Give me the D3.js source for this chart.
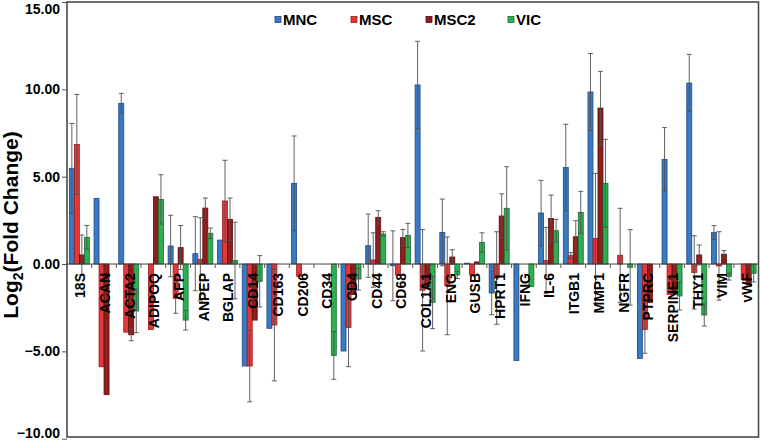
<!DOCTYPE html>
<html>
<head>
<meta charset="utf-8">
<script src="https://cdn.jsdelivr.net/npm/d3@7/dist/d3.min.js"></script>
<style>
  body { margin: 0; background: #fff; }
  svg { display: block; font-family: "Liberation Sans", Arial, sans-serif; }
</style>
</head>
<body>
<svg id="chart" width="761" height="441"></svg>
<script>
const categories = ["18S","ACAN","ACTA2","ADIPOQ","AFP","ANPEP","BGLAP","CD14","CD163","CD206","CD34","CD4","CD44","CD68","COL1A1","ENG","GUSB","HPRT1","IFNG","IL-6","ITGB1","MMP1","NGFR","PTPRC","SERPINE1","THY1","VIM","vWF"];
const seriesNames = ["MNC","MSC","MSC2","VIC"];
const MNC     = [5.48, 3.76, 9.2, 0, 1.03, 0.59, 1.37, -5.84, -3.68, 4.62, 0, -4.98, 1.05, -0.1, 10.25, 1.81, 0.05, -1.66, -5.52, 2.92, 5.52, 9.85, 0, -5.4, 5.99, 10.36, 1.8, 0];
const MNC_err = [2.57, 0, 0.57, 0, 1.76, 2.12, 0, 0, 0, 2.71, 0, 0, 1.81, 2.0, 2.5, 1.91, 0, 1.24, 0, 1.87, 2.48, 2.2, 0, 0, 1.82, 1.64, 0.4, 0];
const MSC     = [6.85, -5.88, -3.9, -3.75, -1.97, 0.27, 3.61, -5.84, -3.49, -0.7, 0, -3.63, 0.23, -0.63, -1.5, -1.25, -0.63, -0.8, 0, 0.2, 0.48, 1.47, 0.5, -3.74, -1.75, -0.48, -0.11, -0.9];
const MSC_err = [2.86, 0, 0, 0, 0.85, 2.38, 2.33, 2.05, 3.2, 0, 0, 2.25, 1.56, 0, 3.48, 2.8, 0, 2.65, 0, 1.9, 0.17, 3.72, 2.69, 1.37, 0, 2.1, 1.96, 0];
const MSC2     = [0.52, -7.48, -4.05, 3.85, 0.94, 3.2, 2.56, -3.21, 0, 0, 0, -1.75, 2.67, 1.51, -1.3, 0.4, 0.12, 2.75, 0, 2.61, 1.56, 8.93, 0, -2.21, -1.7, 0.52, 0.56, -1.2];
const MSC2_err = [1.14, 0, 0.34, 0, 1.26, 0.58, 1.22, 0, 0, 0, 0, 0, 0.38, 0.47, 0, 0.42, 0, 1.27, 0, 1.34, 0.92, 2.1, 0, 0, 0, 0.57, 0.21, 0];
const VIC     = [1.53, 0, -2.69, 3.7, -3.21, 1.76, 0.2, -0.99, 0, 0, -5.23, -0.86, 1.72, 1.64, -2.2, -0.63, 1.24, 3.19, -1.28, 1.91, 2.96, 4.62, -0.19, 0, -1.83, -2.92, -0.72, -0.53];
const VIC_err = [0.68, 0, 1.24, 1.41, 0.57, 0.3, 2.19, 1.47, 0, 0, 1.37, 0.63, 0.13, 0.69, 1.5, 0.2, 0.55, 2.38, 0, 0.65, 1.2, 2.52, 2.16, 0, 0.8, 0.63, 0.2, 0.5];
const yTicks = [-10, -5, 0, 5, 10, 15];

const values = {MNC: MNC, MSC: MSC, MSC2: MSC2, VIC: VIC};
const errors = {MNC: MNC_err, MSC: MSC_err, MSC2: MSC2_err, VIC: VIC_err};
const fills   = {MNC: "#3a79c4", MSC: "#e3383a", MSC2: "#8e1d1d", VIC: "#2fae52"};
const strokes = {MNC: "#1e4a80", MSC: "#9a1c1c", MSC2: "#5a0f0f", VIC: "#1a6e32"};

const svg = d3.select("#chart");
const plotL = 67, plotR = 758.5, plotT = 2, plotB = 437;

const y = d3.scaleLinear().domain([-10, 15]).range([438.7, 2]);
const x0 = d3.scaleBand().domain(categories).range([plotL, plotR]).padding(0);
const bw = x0.bandwidth();
const innerPad = (bw - 20) / 2;
const x1 = d3.scaleBand().domain(seriesNames).range([innerPad, bw - innerPad]).padding(0);

const rows = [];
categories.forEach((c, i) => {
  seriesNames.forEach(s => {
    rows.push({cat: c, s: s, v: values[s][i], e: errors[s][i]});
  });
});

const g = svg.append("g");
g.selectAll("rect.bar").data(rows.filter(d => d.v !== 0)).join("rect")
  .attr("class", "bar")
  .attr("x", d => x0(d.cat) + x1(d.s))
  .attr("width", x1.bandwidth())
  .attr("y", d => y(Math.max(0, d.v)))
  .attr("height", d => Math.abs(y(d.v) - y(0)))
  .attr("fill", d => fills[d.s])
  .attr("stroke", d => strokes[d.s])
  .attr("stroke-width", 0.8);

const cx = d => x0(d.cat) + x1(d.s) + x1.bandwidth() / 2;
const eb = g.selectAll("g.err").data(rows.filter(d => d.e > 0)).join("g").attr("class", "err")
  .attr("stroke", "#505050").attr("stroke-width", 0.9);
eb.append("line")
  .attr("x1", cx).attr("x2", cx)
  .attr("y1", d => y(d.v - d.e))
  .attr("y2", d => y(d.v + d.e));
eb.append("line")
  .attr("x1", d => cx(d) - 2.5).attr("x2", d => cx(d) + 2.5)
  .attr("y1", d => y(d.v + d.e)).attr("y2", d => y(d.v + d.e));
eb.append("line")
  .attr("x1", d => cx(d) - 2.5).attr("x2", d => cx(d) + 2.5)
  .attr("y1", d => y(d.v - d.e)).attr("y2", d => y(d.v - d.e));

const xAxis = svg.append("g").attr("transform", `translate(0,${y(0)})`);
xAxis.append("line").attr("x1", plotL).attr("x2", plotR).attr("y1", 0).attr("y2", 0)
  .attr("stroke", "#444").attr("stroke-width", 1);
xAxis.selectAll("line.tk").data(categories.slice(1)).join("line").attr("class", "tk")
  .attr("x1", d => x0(d)).attr("x2", d => x0(d)).attr("y1", 0).attr("y2", 4)
  .attr("stroke", "#555").attr("stroke-width", 1);

svg.append("g").selectAll("text").data(categories).join("text")
  .attr("transform", d => `translate(${x0(d) + bw / 2 + 1},273) rotate(-90)`)
  .attr("text-anchor", "end")
  .attr("dy", "0.35em")
  .attr("font-size", 14)
  .attr("font-weight", "bold")
  .attr("fill", "#000")
  .text(d => d);

svg.append("rect").attr("x", plotL).attr("y", plotT).attr("width", plotR - plotL).attr("height", plotB - plotT)
  .attr("fill", "none").attr("stroke", "#4a4a4a").attr("stroke-width", 1.6);

const yAxis = svg.append("g").attr("transform", `translate(${plotL},0)`)
  .call(d3.axisLeft(y).tickValues(yTicks).tickSize(5).tickPadding(2).tickFormat(d3.format(".2f")));
yAxis.select(".domain").remove();
yAxis.selectAll(".tick line").attr("stroke", "#555");
yAxis.selectAll(".tick text").attr("font-size", 14).attr("font-weight", "bold")
  .attr("font-family", "Liberation Sans, Arial, sans-serif").attr("fill", "#000");
yAxis.selectAll(".tick").filter(d => d === 15).select("text").attr("dy", "0.8em");
yAxis.selectAll(".tick").filter(d => d === -10).select("text").attr("dy", "-0.12em");

const yt = svg.append("text")
  .attr("transform", "translate(18,225) rotate(-90)")
  .attr("text-anchor", "middle")
  .attr("font-size", 21).attr("font-weight", "bold").attr("fill", "#000");
yt.append("tspan").text("Log");
yt.append("tspan").attr("font-size", 14).attr("dy", 5).text("2");
yt.append("tspan").attr("dy", -5).text("(Fold Change)");

const legendX = [275, 351, 426, 508];
const lg = svg.append("g").selectAll("g").data(seriesNames).join("g")
  .attr("transform", (d, i) => `translate(${legendX[i]},0)`);
lg.append("rect").attr("x", 0).attr("y", 16.5).attr("width", 6).attr("height", 6)
  .attr("fill", d => fills[d]).attr("stroke", d => strokes[d]).attr("stroke-width", 0.8);
lg.append("text").attr("x", 8).attr("y", 25).attr("font-size", 15).attr("font-weight", "bold")
  .attr("fill", "#000").text(d => d);
</script>
</body>
</html>
